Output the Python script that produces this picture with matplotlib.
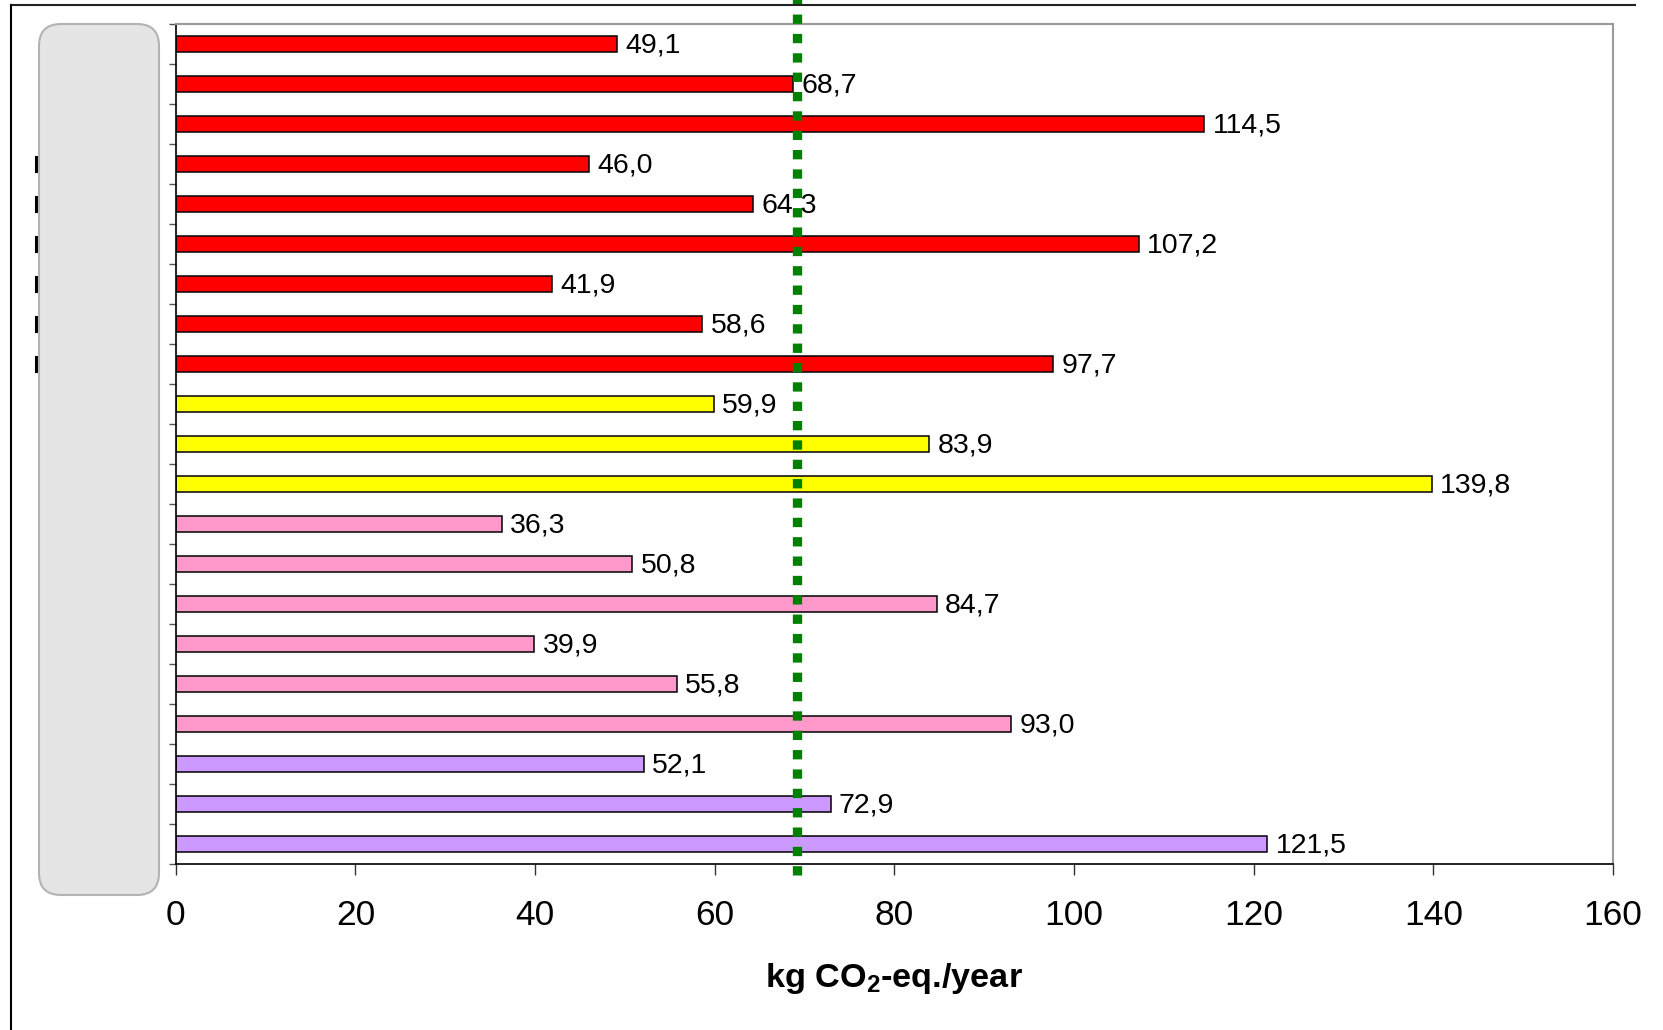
import matplotlib
matplotlib.use("Agg")
import matplotlib.pyplot as plt
import matplotlib.transforms as mtransforms
from matplotlib.patches import FancyBboxPatch
from matplotlib.lines import Line2D

plt.rcParams['font.family'] = ['Liberation Sans', 'DejaVu Sans']
plt.rcParams['mathtext.fontset'] = 'custom'
plt.rcParams['mathtext.rm'] = 'Liberation Sans'
plt.rcParams['mathtext.bf'] = 'Liberation Sans:bold'

# values, top to bottom
values = [49.1, 68.7, 114.5, 46.0, 64.3, 107.2, 41.9, 58.6, 97.7,
          59.9, 83.9, 139.8,
          36.3, 50.8, 84.7, 39.9, 55.8, 93.0,
          52.1, 72.9, 121.5]
groups = ['red'] * 9 + ['yellow'] * 3 + ['pink'] * 6 + ['lavender'] * 3
group_colors = {'red': '#FF0000', 'yellow': '#FFFF00',
                'pink': '#FF99CC', 'lavender': '#CC99FF'}
reference_value = 69.2
x_ticks = [0, 20, 40, 60, 80, 100, 120, 140, 160]
marked_rows = [3, 4, 5, 6, 7, 8]

fig = plt.figure(figsize=(16.63, 10.30), dpi=100)
ax = fig.add_axes([0.1057, 0.1612, 0.8643, 0.8155])

pos = list(range(len(values)))
ax.barh(pos, values, height=0.4,
        color=[group_colors[g] for g in groups],
        edgecolor='black', linewidth=1.1, zorder=2)

for p, v in zip(pos, values):
    ax.annotate(f'{v:.1f}'.replace('.', ','), xy=(v, p), xytext=(6, -1),
                textcoords='offset points', va='center', ha='left',
                fontsize=20.5, zorder=3)

ax.set_xlim(0, 160)
ax.set_ylim(len(values) - 0.5, -0.5)
ax.set_xticks(x_ticks)
ax.tick_params(axis='x', labelsize=25.5, length=8, width=1, pad=17, color='#333333')
ax.set_yticks([i - 0.5 for i in range(len(values) + 1)])
ax.set_yticklabels([])
ax.tick_params(axis='y', length=5, width=1, color='#555555')

for side in ['top', 'right']:
    ax.spines[side].set_color('#9a9a9a')
    ax.spines[side].set_linewidth(1.5)
for side in ['left', 'bottom']:
    ax.spines[side].set_color('black')
    ax.spines[side].set_linewidth(1.2)

ax.set_xlabel(r'kg CO$_\mathbf{2}$-eq./year', fontsize=24.7,
              fontweight='bold', labelpad=21)

# green dotted reference line, runs past the plot area
trans = mtransforms.blended_transform_factory(ax.transData, ax.transAxes)
ax.plot([reference_value, reference_value], [-0.013, 1.03], transform=trans,
        color='#008000', linewidth=6.7, linestyle=(0, (1, 1.08)),
        clip_on=False, zorder=4)

# grey rounded panel over the category labels
panel = FancyBboxPatch((0.39, 1.35), 1.20, 8.71,
                       boxstyle='round,pad=0,rounding_size=0.22',
                       transform=fig.dpi_scale_trans,
                       facecolor='#E5E5E5', edgecolor='#B3B3B3',
                       linewidth=1.5, zorder=5)
fig.patches.append(panel)

# leftover label fragments at the far left
trans_y = mtransforms.blended_transform_factory(ax.transAxes, ax.transData)
for r in marked_rows:
    ax.plot([-0.0972, -0.0972], [r - 0.17, r + 0.17], transform=trans_y,
            color='black', linewidth=2.2, clip_on=False, zorder=6)

# outer frame (top and left edges visible)
fig.add_artist(Line2D([11 / 1663, 1635 / 1663], [1 - 5 / 1030, 1 - 5 / 1030],
                      color='#222222', linewidth=1.5))
fig.add_artist(Line2D([11 / 1663, 11 / 1663], [1 - 5 / 1030, 0],
                      color='black', linewidth=1.5))

fig.savefig('out.png', dpi=100)
